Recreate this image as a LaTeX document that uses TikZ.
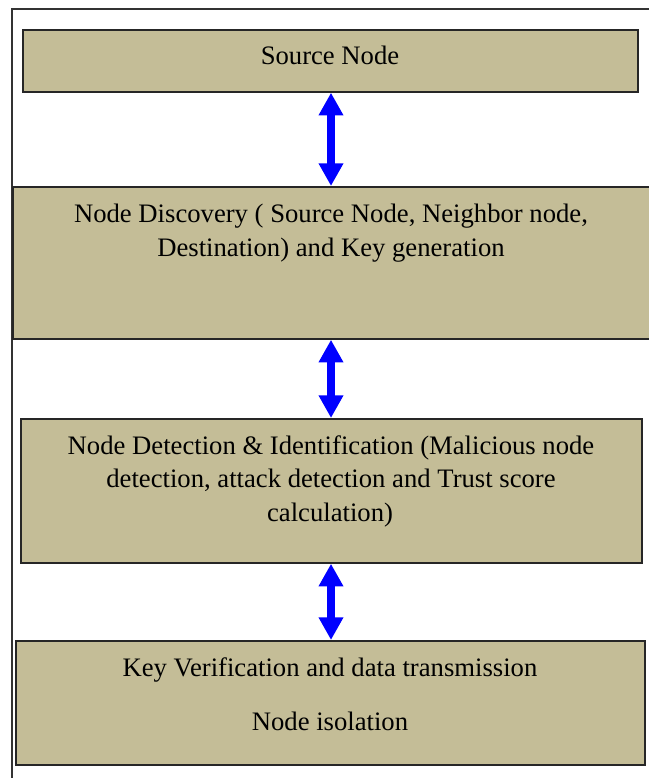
\documentclass[tikz,border=0pt]{standalone}
\usepackage{fontspec}
\setmainfont{Liberation Serif}
\usetikzlibrary{arrows.meta}
\definecolor{tanfill}{HTML}{C4BD97}
\begin{document}
\begin{tikzpicture}[x=0.75pt,y=-0.75pt,
  box/.style={draw=black!85,fill=tanfill,line width=1.3pt,inner sep=0pt,anchor=north west},
  lbl/.style={anchor=base,inner sep=0pt,font=\fontsize{20}{24}\selectfont},
  dblarrow/.style={draw=blue,line width=5.5pt,
    {Triangle[length=17pt,width=17.5pt]}-{Triangle[length=17pt,width=17.5pt]}},
  frameline/.style={draw=black!80,line width=1.1pt}]
\useasboundingbox (0,0) rectangle (649,778);
% outer frame (open to the right and bottom)
\draw[frameline] (12,790) -- (12,9) -- (660,9);
% boxes
\node[box,minimum width=461.25pt,minimum height=46.5pt] (b1) at (22,29) {};
\node[box,minimum width=480pt,minimum height=114pt] (b2) at (12,186) {};
\node[box,minimum width=465.75pt,minimum height=108pt] (b3) at (20,418) {};
\node[box,minimum width=471.75pt,minimum height=93pt] (b4) at (15,640) {};
% texts
\node[lbl] (t1) at (330,64) {Source Node};
\node[lbl] (t2a) at (331,222) {Node Discovery ( Source Node, Neighbor node,};
\node[lbl] (t2b) at (331,256) {Destination) and Key generation};
\node[lbl] (t3a) at (331,454) {Node Detection \& Identification (Malicious node};
\node[lbl] (t3b) at (331,487) {detection, attack detection and Trust score};
\node[lbl] (t3c) at (330,521) {calculation)};
\node[lbl] (t4a) at (330,676) {Key Verification and data transmission};
\node[lbl] (t4b) at (330,730) {Node isolation};
% connectors
\coordinate (ax) at (331,0);
\draw[dblarrow] (b1.south -| ax) -- (b2.north -| ax);
\draw[dblarrow] (b2.south -| ax) -- (b3.north -| ax);
\draw[dblarrow] (b3.south -| ax) -- (b4.north -| ax);
\end{tikzpicture}
\end{document}
